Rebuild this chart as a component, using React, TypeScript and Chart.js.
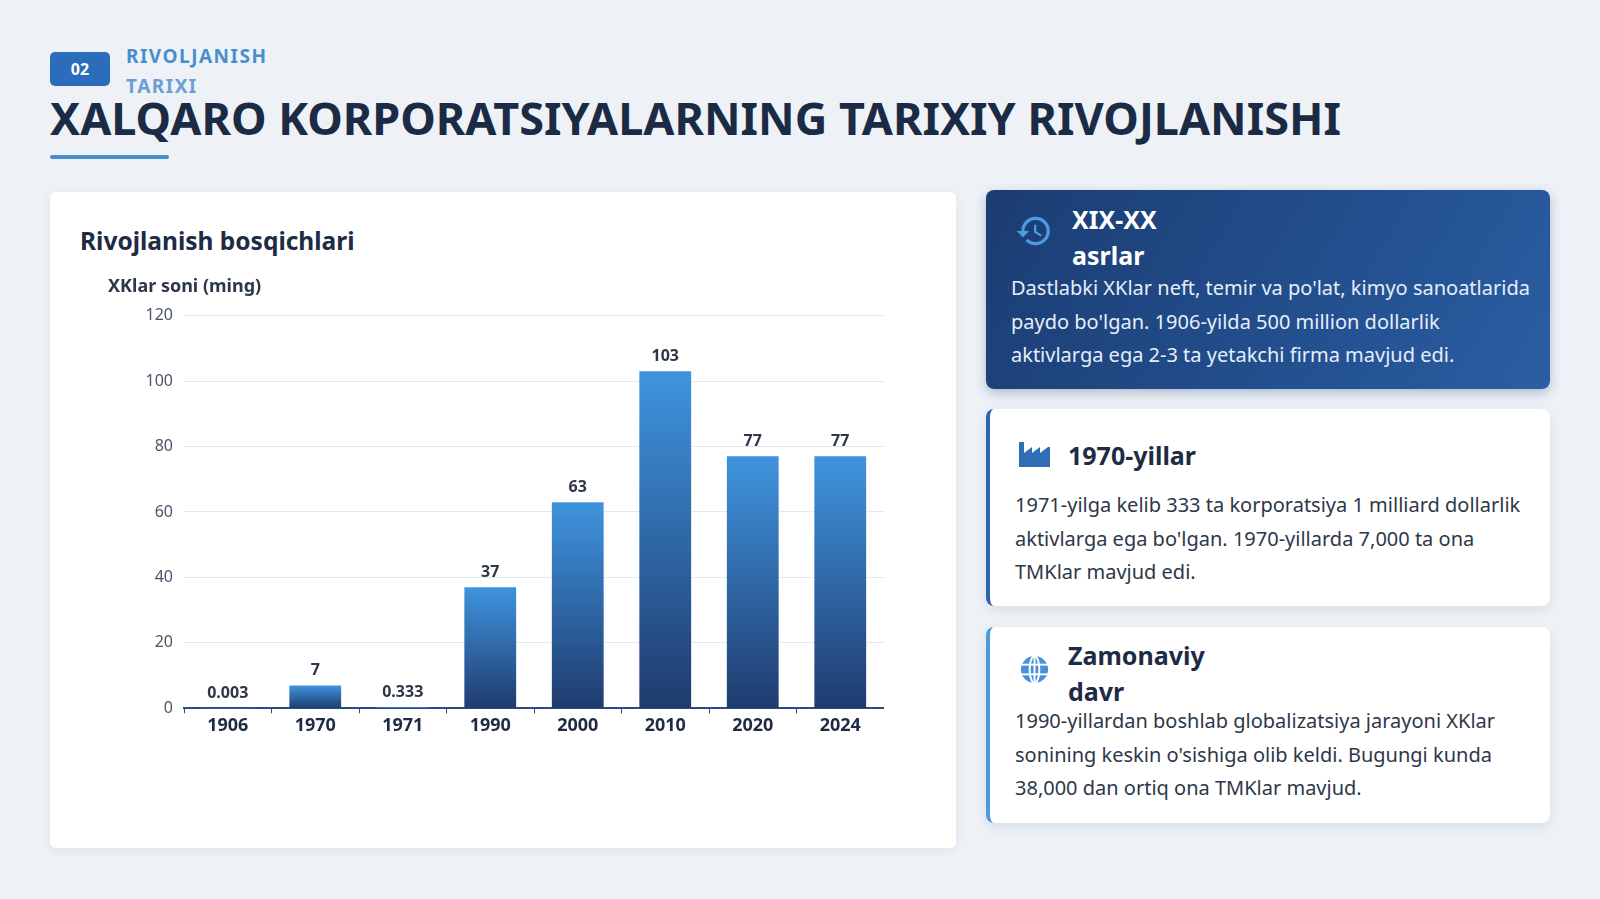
import { useEffect, useRef } from "react";
import { Chart, registerables } from "chart.js";

Chart.register(...registerables);

const years = ["1906", "1970", "1971", "1990", "2000", "2010", "2020", "2024"];
const counts = [0.003, 7, 0.333, 37, 63, 103, 77, 77];
const countLabels = ["0.003", "7", "0.333", "37", "63", "103", "77", "77"];
const yTicks = [0, 20, 40, 60, 80, 100, 120];

const FONT = "'Noto Sans', 'Open Sans', sans-serif";

// bar value labels above each bar
const valueLabels = {
  id: "valueLabels",
  afterDatasetsDraw(chart: any) {
    const { ctx } = chart;
    const meta = chart.getDatasetMeta(0);
    ctx.save();
    ctx.font = `bold 16px ${FONT}`;
    ctx.fillStyle = "#2d3748";
    ctx.textAlign = "center";
    ctx.textBaseline = "middle";
    meta.data.forEach((bar: any, i: number) => {
      ctx.fillText(countLabels[i], bar.x, bar.y - 15);
    });
    ctx.restore();
  },
};

function BarChart() {
  const canvasRef = useRef<HTMLCanvasElement>(null);

  useEffect(() => {
    if (!canvasRef.current) return;

    const chart = new Chart(canvasRef.current, {
      type: "bar",
      data: {
        labels: years,
        datasets: [
          {
            label: "XKlar soni (ming)",
            data: counts,
            backgroundColor: (context: any) => {
              const c = context.chart;
              const { ctx, chartArea, scales } = c;
              if (!chartArea) return "#2b6cb0";
              const v = context.raw ?? 0;
              const top = scales.y.getPixelForValue(v);
              const bottom = scales.y.getPixelForValue(0);
              const g = ctx.createLinearGradient(0, top, 0, Math.max(bottom, top + 1));
              g.addColorStop(0, "#3f94de");
              g.addColorStop(1, "#1f3b6e");
              return g;
            },
            borderWidth: 0,
            categoryPercentage: 0.8,
            barPercentage: 0.74,
          },
        ],
      },
      options: {
        responsive: true,
        maintainAspectRatio: false,
        animation: false,
        layout: { padding: { left: 0, right: 0, top: 0, bottom: 1 } },
        plugins: {
          legend: { display: false },
          tooltip: { enabled: false },
          title: {
            display: true,
            text: "XKlar soni (ming)",
            align: "start",
            color: "#2d3748",
            font: { family: FONT, size: 18, weight: "bold" },
            padding: { top: 8, bottom: 18 },
          },
        },
        scales: {
          x: {
            grid: {
              drawOnChartArea: false,
              drawTicks: true,
              tickLength: 5,
              color: "#2a4a80",
              offset: true,
            },
            border: { display: true, color: "#2a4a80", width: 2 },
            ticks: {
              color: "#1e2b45",
              padding: 2,
              font: { family: FONT, size: 18, weight: "bold" },
            },
          },
          y: {
            min: 0,
            max: 120,
            afterFit: (scale: any) => {
              scale.width = 76;
            },
            afterBuildTicks: (scale: any) => {
              scale.ticks = yTicks.map((v) => ({ value: v }));
            },
            grid: { color: "#e6eaef", drawTicks: false, lineWidth: 1 },
            border: { display: false },
            ticks: {
              color: "#4a5568",
              padding: 11,
              font: { family: FONT, size: 16 },
            },
          },
        },
      },
      plugins: [valueLabels],
    });

    return () => {
      chart.destroy();
    };
  }, []);

  return (
    <div style={{ position: "absolute", left: 108, top: 268, width: 776, height: 472 }}>
      <canvas ref={canvasRef}></canvas>
    </div>
  );
}

function HistoryIcon() {
  return (
    <svg width="38" height="38" viewBox="0 0 24 24">
      <path
        fill="#4d9be2"
        d="M13 3a9 9 0 0 0-9 9H1l3.89 3.89.07.14L9 12H6c0-3.87 3.13-7 7-7s7 3.13 7 7-3.13 7-7 7c-1.93 0-3.68-.79-4.940-2.06l-1.42 1.42A8.954 8.954 0 0 0 13 21a9 9 0 0 0 0-18zm-1 5v5l4.28 2.54.72-1.21-3.5-2.08V8H12z"
      />
    </svg>
  );
}

function FactoryIcon() {
  return (
    <svg width="31" height="26" viewBox="0 0 31 26">
      <path fill="#2f6db5" d="M0 26V1h5v11l8-6v6l8-6v6l8-6h2v20z" />
    </svg>
  );
}

function GlobeIcon() {
  return (
    <svg width="31" height="31" viewBox="0 0 32 32">
      <circle cx="16" cy="16" r="14" fill="#4a90d9" />
      <ellipse cx="16" cy="16" rx="5" ry="14" fill="none" stroke="#ffffff" strokeWidth="2" />
      <line x1="2" y1="11" x2="30" y2="11" stroke="#ffffff" strokeWidth="2" />
      <line x1="2" y1="21" x2="30" y2="21" stroke="#ffffff" strokeWidth="2" />
      <line x1="16" y1="2" x2="16" y2="30" stroke="#ffffff" strokeWidth="2" />
    </svg>
  );
}

const bodyText = (color: string) => ({
  position: "absolute" as const,
  fontSize: 20,
  lineHeight: "33.5px",
  color,
  whiteSpace: "nowrap" as const,
});

const cardTitle = (color: string) => ({
  position: "absolute" as const,
  fontSize: 25,
  fontWeight: 700,
  lineHeight: "36px",
  color,
  whiteSpace: "nowrap" as const,
});

export default function App() {
  useEffect(() => {
    document.body.style.margin = "0";
  }, []);

  return (
    <div
      style={{
        position: "relative",
        width: 1600,
        height: 899,
        background: "#eef2f7",
        fontFamily: FONT,
        overflow: "hidden",
      }}
    >
      {/* header */}
      <div
        style={{
          position: "absolute",
          left: 50,
          top: 52,
          width: 60,
          height: 34,
          background: "#2c6cbd",
          borderRadius: 5,
          color: "#fff",
          fontWeight: 700,
          fontSize: 16,
          display: "flex",
          alignItems: "center",
          justifyContent: "center",
        }}
      >
        02
      </div>
      <div
        style={{
          position: "absolute",
          left: 126,
          top: 41,
          fontSize: 19,
          fontWeight: 700,
          lineHeight: "30px",
          letterSpacing: 1.5,
          color: "#4a8fcc",
        }}
      >
        RIVOLJANISH
        <br />
        <span style={{ color: "#6a9fd6" }}>TARIXI</span>
      </div>
      <div
        style={{
          position: "absolute",
          left: 50,
          top: 87,
          fontSize: 45,
          fontWeight: 700,
          lineHeight: "62px",
          color: "#1c2b45",
          whiteSpace: "nowrap",
        }}
      >
        XALQARO KORPORATSIYALARNING TARIXIY RIVOJLANISHI
      </div>
      <div
        style={{
          position: "absolute",
          left: 50,
          top: 155,
          width: 119,
          height: 4,
          background: "#4a8fcc",
          borderRadius: 2,
        }}
      />

      {/* chart card */}
      <div
        style={{
          position: "absolute",
          left: 50,
          top: 192,
          width: 906,
          height: 656,
          background: "#ffffff",
          borderRadius: 6,
          boxShadow: "0 2px 10px rgba(30, 50, 90, 0.08)",
        }}
      >
        <div
          style={{
            position: "absolute",
            left: 30,
            top: 31,
            fontSize: 24.5,
            fontWeight: 700,
            lineHeight: "36px",
            color: "#1e2b45",
          }}
        >
          Rivojlanish bosqichlari
        </div>
      </div>
      <BarChart />

      {/* card 1 */}
      <div
        style={{
          position: "absolute",
          left: 986,
          top: 190,
          width: 564,
          height: 199,
          borderRadius: 8,
          background: "linear-gradient(120deg, #1b3c72 0%, #23508f 60%, #2a5ea3 100%)",
          boxShadow: "0 4px 12px rgba(25, 55, 105, 0.3)",
        }}
      >
        <div style={{ position: "absolute", left: 29, top: 22 }}>
          <HistoryIcon />
        </div>
        <div style={{ ...cardTitle("#ffffff"), left: 86, top: 11 }}>
          XIX-XX
          <br />
          asrlar
        </div>
        <div style={{ ...bodyText("#e6eef9"), left: 25, top: 81 }}>
          Dastlabki XKlar neft, temir va po'lat, kimyo sanoatlarida
          <br />
          paydo bo'lgan. 1906-yilda 500 million dollarlik
          <br />
          aktivlarga ega 2-3 ta yetakchi firma mavjud edi.
        </div>
      </div>

      {/* card 2 */}
      <div
        style={{
          position: "absolute",
          left: 986,
          top: 409,
          width: 564,
          height: 197,
          borderRadius: 8,
          background: "#ffffff",
          borderLeft: "4px solid #2b63b0",
          boxSizing: "border-box",
          boxShadow: "0 4px 12px rgba(30, 50, 90, 0.1)",
        }}
      >
        <div style={{ position: "absolute", left: 29, top: 32 }}>
          <FactoryIcon />
        </div>
        <div style={{ ...cardTitle("#1e2b45"), left: 78, top: 28 }}>1970-yillar</div>
        <div style={{ ...bodyText("#2d3748"), left: 25, top: 79 }}>
          1971-yilga kelib 333 ta korporatsiya 1 milliard dollarlik
          <br />
          aktivlarga ega bo'lgan. 1970-yillarda 7,000 ta ona
          <br />
          TMKlar mavjud edi.
        </div>
      </div>

      {/* card 3 */}
      <div
        style={{
          position: "absolute",
          left: 986,
          top: 627,
          width: 564,
          height: 196,
          borderRadius: 8,
          background: "#ffffff",
          borderLeft: "4px solid #4a9ae0",
          boxSizing: "border-box",
          boxShadow: "0 4px 12px rgba(30, 50, 90, 0.1)",
        }}
      >
        <div style={{ position: "absolute", left: 29, top: 27 }}>
          <GlobeIcon />
        </div>
        <div style={{ ...cardTitle("#1e2b45"), left: 78, top: 10 }}>
          Zamonaviy
          <br />
          davr
        </div>
        <div style={{ ...bodyText("#2d3748"), left: 25, top: 77 }}>
          1990-yillardan boshlab globalizatsiya jarayoni XKlar
          <br />
          sonining keskin o'sishiga olib keldi. Bugungi kunda
          <br />
          38,000 dan ortiq ona TMKlar mavjud.
        </div>
      </div>
    </div>
  );
}
